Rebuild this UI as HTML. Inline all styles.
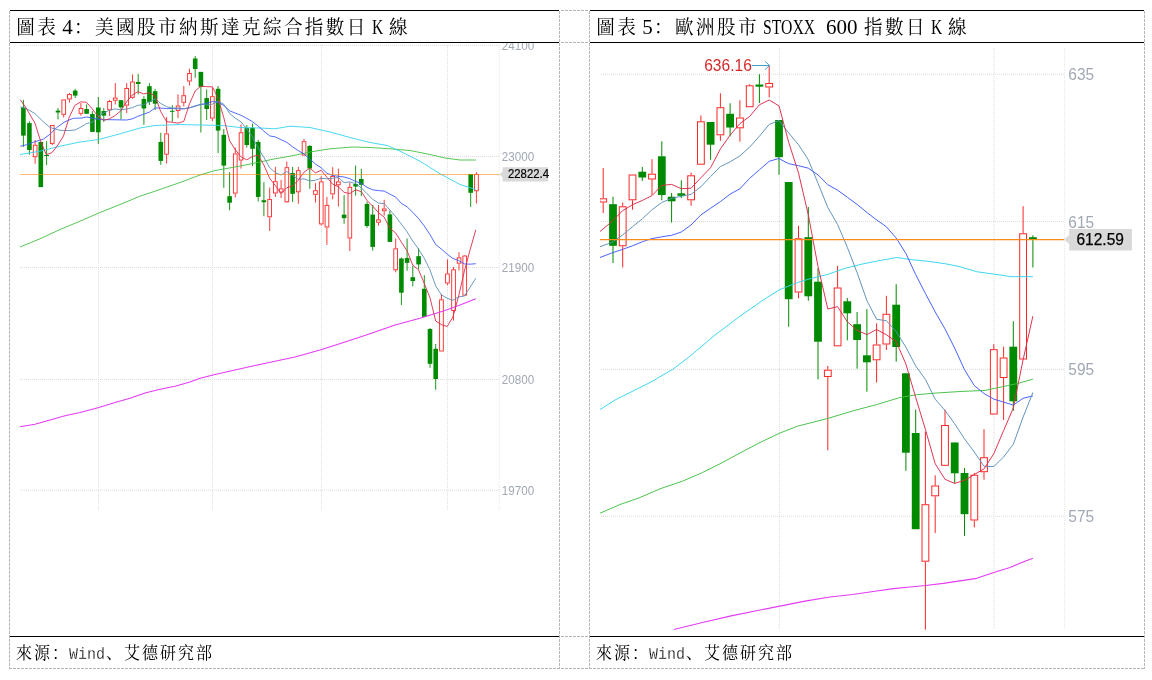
<!DOCTYPE html>
<html lang="zh">
<head>
<meta charset="utf-8">
<title>圖表 4 / 圖表 5</title>
<style>
*{box-sizing:border-box}
html,body{margin:0;padding:0;background:#fff}
body{width:1152px;height:680px;position:relative;overflow:hidden;font-family:"Liberation Serif","Noto Serif CJK SC",serif;color:#000}
#grid{position:absolute;left:0;top:0;width:1152px;height:680px;pointer-events:none}
.fig{position:absolute;top:10px;height:659px;margin:0}
#figL{left:10px;width:549px}
#figR{left:590px;width:554px}
.fig h2{position:absolute;left:0;top:1px;margin:0;height:31px;width:100%;font-weight:400;font-size:0;line-height:31px;white-space:nowrap}
.fig svg.chart{position:absolute;left:0;top:33px;display:block}
.fig p{position:absolute;left:0;top:627px;margin:0;height:31px;width:100%;font-size:0;line-height:31px;white-space:nowrap}
.t{display:inline-block;position:relative;box-sizing:border-box;height:31px;line-height:31px;vertical-align:top;white-space:pre;transform-origin:0 50%}
.cj{transform:scaleY(1.06);font-family:"Liberation Serif","Noto Serif CJK SC",serif}
.la{font-family:"Liberation Serif",serif}
.mo{font-family:"Liberation Mono",monospace;transform-origin:0 64%;-webkit-text-stroke:0.22px #fff}
</style>
</head>
<body>
<svg id="grid" width="1152" height="680" viewBox="0 0 1152 680" shape-rendering="crispEdges">
<g stroke="#b6b6b6" stroke-width="1" stroke-dasharray="3 1" fill="none">
<path d="M9.5 11V669M559.5 11V669M589.5 11V669M1144.5 11V669"/>
<path d="M9 668.5H1145M561 10.5H589M561 42.5H589M561 636.5H589"/>
</g>
<g fill="#000">
<rect x="10" y="10" width="549" height="1"/><rect x="10" y="42" width="549" height="1"/><rect x="10" y="636" width="549" height="1"/>
<rect x="590" y="10" width="554" height="1"/><rect x="590" y="42" width="554" height="1"/><rect x="590" y="636" width="554" height="1"/>
</g>
</svg>
<section class="fig" id="figL">
<h2><span class="t cj" style="margin-left:5.00px;width:42.00px;padding-left:1.20px;top:0.6px;font-size:18.6px;letter-spacing:2.40px">圖表</span> <span class="t la" style="margin-left:5.25px;width:10.50px;top:1.2px;font-size:21px">4</span><span class="t cj" style="width:294.00px;padding-left:1.20px;top:0.6px;font-size:18.6px;letter-spacing:2.40px">：美國股市納斯達克綜合指數日</span> <span class="t la" style="margin-left:5.25px;width:10.50px;top:1.2px;font-size:21px;transform:scaleX(0.745)">K</span> <span class="t cj" style="margin-left:5.25px;width:21.00px;padding-left:1.20px;top:0.6px;font-size:18.6px;letter-spacing:2.40px">線</span></h2>
<svg class="chart" width="549" height="593" viewBox="0 0 549 593">
<g stroke="#dadada" stroke-width="1" stroke-dasharray="1 1" fill="none">
<path d="M10 2.5H489"/>
<path d="M10 113.5H489"/>
<path d="M10 224.5H489"/>
<path d="M10 336.4H489"/>
<path d="M10 447.2H489"/>
</g>
<g stroke="#dfdfdf" stroke-width="1" stroke-dasharray="1 1" fill="none">
<path d="M88.5 2V467.5"/>
<path d="M202.5 2V467.5"/>
<path d="M311.5 2V467.5"/>
<path d="M437.5 2V467.5"/>
</g>
<path d="M489.3 2V467.5" stroke="#e6e6e6" stroke-width="1" stroke-dasharray="1 1"/>
<g><path d="M13.4 56.8V103.9" stroke="#008a00" stroke-width="0.9"/><rect x="11.1" y="64.5" width="4.6" height="28.1" fill="#008a00"/><path d="M19.4 78.2V111.8" stroke="#008a00" stroke-width="0.9"/><rect x="17.1" y="80.1" width="4.6" height="26.9" fill="#008a00"/><path d="M25.1 97V101.8M25.1 114.2V120.8" stroke="#ff2626" stroke-width="0.9" fill="none"/><rect x="23.3" y="102.2" width="3.7" height="11.6" stroke="#ff2626" stroke-width="0.9" fill="#fff"/><path d="M30.8 98.9V144.1" stroke="#008a00" stroke-width="0.9"/><rect x="28.5" y="98.9" width="4.6" height="45.2" fill="#008a00"/><path d="M36.6 98.2V122" stroke="#008a00" stroke-width="0.9"/><rect x="34.3" y="112" width="4.6" height="1" fill="#008a00"/><path d="M42.3 100.8V102" stroke="#ff2626" stroke-width="0.9" fill="none"/><rect x="40.4" y="82.5" width="3.7" height="17.9" stroke="#ff2626" stroke-width="0.9" fill="#fff"/><path d="M48 65V76.4" stroke="#008a00" stroke-width="0.9"/><rect x="45.7" y="67.6" width="4.6" height="1.9" fill="#008a00"/><path d="M53.7 71.8V74.5" stroke="#ff2626" stroke-width="0.9" fill="none"/><rect x="51.9" y="56.9" width="3.7" height="14.4" stroke="#ff2626" stroke-width="0.9" fill="#fff"/><path d="M59.5 50V51M59.5 56.4V59.5" stroke="#ff2626" stroke-width="0.9" fill="none"/><rect x="57.6" y="51.5" width="3.7" height="4.5" stroke="#ff2626" stroke-width="0.9" fill="#fff"/><path d="M65.2 45.8V55" stroke="#008a00" stroke-width="0.9"/><rect x="62.9" y="47.6" width="4.6" height="5" fill="#008a00"/><path d="M70.9 60V65M70.9 70.8V72.6" stroke="#ff2626" stroke-width="0.9" fill="none"/><rect x="69.1" y="65.5" width="3.7" height="4.8" stroke="#ff2626" stroke-width="0.9" fill="#fff"/><path d="M76.6 61.4V70.8" stroke="#008a00" stroke-width="0.9"/><rect x="74.3" y="66" width="4.6" height="4.8" fill="#008a00"/><path d="M82.4 68.2V88.9" stroke="#008a00" stroke-width="0.9"/><rect x="80.1" y="71" width="4.6" height="17.9" fill="#008a00"/><path d="M88.3 53.9V100.8" stroke="#008a00" stroke-width="0.9"/><rect x="86" y="64.5" width="4.6" height="24.8" fill="#008a00"/><path d="M93.8 65V78.9" stroke="#008a00" stroke-width="0.9"/><rect x="91.5" y="68" width="4.6" height="4.6" fill="#008a00"/><path d="M99.6 56.8V58M99.6 67.2V73.2" stroke="#ff2626" stroke-width="0.9" fill="none"/><rect x="97.7" y="58.5" width="3.7" height="8.3" stroke="#ff2626" stroke-width="0.9" fill="#fff"/><path d="M105.3 40.1V54.5M105.3 57.6V61.4" stroke="#ff2626" stroke-width="0.9" fill="none"/><rect x="103.4" y="55" width="3.7" height="2.2" stroke="#ff2626" stroke-width="0.9" fill="#fff"/><path d="M111 57.2V76.4" stroke="#008a00" stroke-width="0.9"/><rect x="108.7" y="57.2" width="4.6" height="7.2" fill="#008a00"/><path d="M116.7 40.1V45.1M116.7 62.6V70.1" stroke="#ff2626" stroke-width="0.9" fill="none"/><rect x="114.9" y="45.5" width="3.7" height="16.6" stroke="#ff2626" stroke-width="0.9" fill="#fff"/><path d="M122.5 31.4V38.6M122.5 54.8V55.8" stroke="#ff2626" stroke-width="0.9" fill="none"/><rect x="120.6" y="39" width="3.7" height="15.3" stroke="#ff2626" stroke-width="0.9" fill="#fff"/><path d="M128.2 30.8V51.4" stroke="#008a00" stroke-width="0.9"/><rect x="125.9" y="38.9" width="4.6" height="2.1" fill="#008a00"/><path d="M133.9 53.2V81.8" stroke="#008a00" stroke-width="0.9"/><rect x="131.6" y="56" width="4.6" height="9.5" fill="#008a00"/><path d="M139.4 40.1V62" stroke="#008a00" stroke-width="0.9"/><rect x="137.1" y="43.2" width="4.6" height="15.7" fill="#008a00"/><path d="M145.1 45.8V67" stroke="#008a00" stroke-width="0.9"/><rect x="142.8" y="48.2" width="4.6" height="12.5" fill="#008a00"/><path d="M150.8 89.8V121.8" stroke="#008a00" stroke-width="0.9"/><rect x="148.5" y="98.9" width="4.6" height="19" fill="#008a00"/><path d="M156.6 74V90.4M156.6 111.6V120.5" stroke="#ff2626" stroke-width="0.9" fill="none"/><rect x="154.7" y="90.9" width="3.7" height="20.3" stroke="#ff2626" stroke-width="0.9" fill="#fff"/><path d="M162.3 62.2V78.9" stroke="#008a00" stroke-width="0.9"/><rect x="160" y="67.8" width="4.6" height="1" fill="#008a00"/><path d="M168 51.4V62.6M168 68V75.1" stroke="#ff2626" stroke-width="0.9" fill="none"/><rect x="166.2" y="63" width="3.7" height="4.5" stroke="#ff2626" stroke-width="0.9" fill="#fff"/><path d="M173.8 43V52.2M173.8 59.8V63.5" stroke="#ff2626" stroke-width="0.9" fill="none"/><rect x="171.9" y="52.7" width="3.7" height="6.6" stroke="#ff2626" stroke-width="0.9" fill="#fff"/><path d="M179.5 25.8V30.1M179.5 38.5V42.6" stroke="#ff2626" stroke-width="0.9" fill="none"/><rect x="177.6" y="30.5" width="3.7" height="7.5" stroke="#ff2626" stroke-width="0.9" fill="#fff"/><path d="M185.2 13V34.8" stroke="#008a00" stroke-width="0.9"/><rect x="182.9" y="15.5" width="4.6" height="10.5" fill="#008a00"/><path d="M190.9 28.9V89.5" stroke="#008a00" stroke-width="0.9"/><rect x="188.6" y="28.9" width="4.6" height="15" fill="#008a00"/><path d="M196.7 46.4V77" stroke="#008a00" stroke-width="0.9"/><rect x="194.4" y="55.1" width="4.6" height="10.9" fill="#008a00"/><path d="M202.4 44.5V53.2M202.4 75.5V78" stroke="#ff2626" stroke-width="0.9" fill="none"/><rect x="200.5" y="53.7" width="3.7" height="21.4" stroke="#ff2626" stroke-width="0.9" fill="#fff"/><path d="M208.1 43V110.1" stroke="#008a00" stroke-width="0.9"/><rect x="205.8" y="45.8" width="4.6" height="41.8" fill="#008a00"/><path d="M213.8 86V144.8" stroke="#008a00" stroke-width="0.9"/><rect x="211.5" y="91.8" width="4.6" height="30.8" fill="#008a00"/><path d="M219.6 129.2V167.2" stroke="#008a00" stroke-width="0.9"/><rect x="217.3" y="153.2" width="4.6" height="6.5" fill="#008a00"/><path d="M225.3 104.5V110.4M225.3 150.5V154.5" stroke="#ff2626" stroke-width="0.9" fill="none"/><rect x="223.4" y="110.9" width="3.7" height="39.2" stroke="#ff2626" stroke-width="0.9" fill="#fff"/><path d="M231 81.4V89.2M231 117.4V125.6" stroke="#ff2626" stroke-width="0.9" fill="none"/><rect x="229.2" y="89.7" width="3.7" height="27.3" stroke="#ff2626" stroke-width="0.9" fill="#fff"/><path d="M236.8 82V104.5" stroke="#008a00" stroke-width="0.9"/><rect x="234.5" y="85.1" width="4.6" height="16.9" fill="#008a00"/><path d="M242.5 80.5V123" stroke="#008a00" stroke-width="0.9"/><rect x="240.2" y="84.8" width="4.6" height="21" fill="#008a00"/><path d="M248.2 96.8V158.5" stroke="#008a00" stroke-width="0.9"/><rect x="245.9" y="98.9" width="4.6" height="55" fill="#008a00"/><path d="M253.9 139.2V173.2" stroke="#008a00" stroke-width="0.9"/><rect x="251.6" y="157.2" width="4.6" height="2" fill="#008a00"/><path d="M259.7 144.5V156M259.7 174.2V188" stroke="#ff2626" stroke-width="0.9" fill="none"/><rect x="257.8" y="156.4" width="3.7" height="17.4" stroke="#ff2626" stroke-width="0.9" fill="#fff"/><path d="M265.4 123.9V138.2M265.4 150.5V153.9" stroke="#ff2626" stroke-width="0.9" fill="none"/><rect x="263.5" y="138.7" width="3.7" height="11.3" stroke="#ff2626" stroke-width="0.9" fill="#fff"/><path d="M271.1 136.8V145.5M271.1 149.5V155.1" stroke="#ff2626" stroke-width="0.9" fill="none"/><rect x="269.3" y="145.9" width="3.7" height="3.1" stroke="#ff2626" stroke-width="0.9" fill="#fff"/><path d="M276.8 118.5V124.2M276.8 159.2V159.8" stroke="#ff2626" stroke-width="0.9" fill="none"/><rect x="275" y="124.7" width="3.7" height="34.1" stroke="#ff2626" stroke-width="0.9" fill="#fff"/><path d="M282.6 123.9V158.9" stroke="#008a00" stroke-width="0.9"/><rect x="280.3" y="130.1" width="4.6" height="20.7" fill="#008a00"/><path d="M288.3 123.9V127.2M288.3 149.2V160.8" stroke="#ff2626" stroke-width="0.9" fill="none"/><rect x="286.4" y="127.7" width="3.7" height="21.1" stroke="#ff2626" stroke-width="0.9" fill="#fff"/><path d="M294 96V98.2" stroke="#ff2626" stroke-width="0.9" fill="none"/><rect x="292.2" y="98.7" width="3.7" height="13.4" stroke="#ff2626" stroke-width="0.9" fill="#fff"/><path d="M299.8 102V145.8" stroke="#008a00" stroke-width="0.9"/><rect x="297.4" y="103" width="4.6" height="22.5" fill="#008a00"/><path d="M305.5 140.1V147.2M305.5 151.8V159.5" stroke="#ff2626" stroke-width="0.9" fill="none"/><rect x="303.6" y="147.7" width="3.7" height="3.6" stroke="#ff2626" stroke-width="0.9" fill="#fff"/><path d="M311.2 133.2V138.5M311.2 181.4V182.6" stroke="#ff2626" stroke-width="0.9" fill="none"/><rect x="309.4" y="138.9" width="3.7" height="42" stroke="#ff2626" stroke-width="0.9" fill="#fff"/><path d="M316.9 153.9V162M316.9 184.5V201.8" stroke="#ff2626" stroke-width="0.9" fill="none"/><rect x="315.1" y="162.4" width="3.7" height="21.6" stroke="#ff2626" stroke-width="0.9" fill="#fff"/><path d="M322.7 124.2V133M322.7 151.4V156.4" stroke="#ff2626" stroke-width="0.9" fill="none"/><rect x="320.8" y="133.4" width="3.7" height="17.5" stroke="#ff2626" stroke-width="0.9" fill="#fff"/><path d="M328.4 125.8V138.5M328.4 142.2V163.5" stroke="#ff2626" stroke-width="0.9" fill="none"/><rect x="326.5" y="138.9" width="3.7" height="2.9" stroke="#ff2626" stroke-width="0.9" fill="#fff"/><path d="M334.1 152.2V180.8" stroke="#008a00" stroke-width="0.9"/><rect x="331.8" y="171.6" width="4.6" height="3.5" fill="#008a00"/><path d="M339.8 139.5V143.9M339.8 195.5V208" stroke="#ff2626" stroke-width="0.9" fill="none"/><rect x="338" y="144.3" width="3.7" height="50.7" stroke="#ff2626" stroke-width="0.9" fill="#fff"/><path d="M345.6 122.6V152.6" stroke="#008a00" stroke-width="0.9"/><rect x="343.3" y="141" width="4.6" height="2.5" fill="#008a00"/><path d="M351.3 125.8V153.2" stroke="#008a00" stroke-width="0.9"/><rect x="349" y="136" width="4.6" height="5.8" fill="#008a00"/><path d="M357 158.5V184.8" stroke="#008a00" stroke-width="0.9"/><rect x="354.7" y="161" width="4.6" height="22" fill="#008a00"/><path d="M362.7 162V207.6" stroke="#008a00" stroke-width="0.9"/><rect x="360.4" y="171.6" width="4.6" height="32.3" fill="#008a00"/><path d="M368.5 162V176.4M368.5 179.8V182.6" stroke="#ff2626" stroke-width="0.9" fill="none"/><rect x="366.6" y="176.8" width="3.7" height="2.4" stroke="#ff2626" stroke-width="0.9" fill="#fff"/><path d="M374.2 156.8V165.5M374.2 168.2V172.6" stroke="#ff2626" stroke-width="0.9" fill="none"/><rect x="372.4" y="165.9" width="3.7" height="1.9" stroke="#ff2626" stroke-width="0.9" fill="#fff"/><path d="M379.9 167.6V198.9" stroke="#008a00" stroke-width="0.9"/><rect x="377.6" y="171.4" width="4.6" height="27.5" fill="#008a00"/><path d="M385.7 195.5V205.3M385.7 227.2V229.4" stroke="#ff2626" stroke-width="0.9" fill="none"/><rect x="383.8" y="205.8" width="3.7" height="21" stroke="#ff2626" stroke-width="0.9" fill="#fff"/><path d="M391.4 214.5V262" stroke="#008a00" stroke-width="0.9"/><rect x="389.1" y="215.5" width="4.6" height="34.2" fill="#008a00"/><path d="M397.1 195.5V227.8" stroke="#008a00" stroke-width="0.9"/><rect x="394.8" y="215" width="4.6" height="4.8" fill="#008a00"/><path d="M402.8 222.6V243.5" stroke="#008a00" stroke-width="0.9"/><rect x="400.5" y="234.2" width="4.6" height="3.8" fill="#008a00"/><path d="M408.6 205.1V226.4" stroke="#008a00" stroke-width="0.9"/><rect x="406.3" y="213.2" width="4.6" height="8.2" fill="#008a00"/><path d="M414.3 232.2V273.9" stroke="#008a00" stroke-width="0.9"/><rect x="412" y="245.8" width="4.6" height="28.1" fill="#008a00"/><path d="M420 285.1V324.8" stroke="#008a00" stroke-width="0.9"/><rect x="417.7" y="286" width="4.6" height="34.8" fill="#008a00"/><path d="M425.7 301V346.8" stroke="#008a00" stroke-width="0.9"/><rect x="423.4" y="305.8" width="4.6" height="30.2" fill="#008a00"/><path d="M431.5 251V256.4" stroke="#ff2626" stroke-width="0.9" fill="none"/><rect x="429.6" y="256.8" width="3.7" height="51.2" stroke="#ff2626" stroke-width="0.9" fill="#fff"/><path d="M437.5 216.4V230.5M437.5 240.5V242.2" stroke="#ff2626" stroke-width="0.9" fill="none"/><rect x="435.6" y="230.9" width="3.7" height="9.1" stroke="#ff2626" stroke-width="0.9" fill="#fff"/><path d="M443.5 223.9V226.4M443.5 268V277.6" stroke="#ff2626" stroke-width="0.9" fill="none"/><rect x="441.7" y="226.8" width="3.7" height="40.7" stroke="#ff2626" stroke-width="0.9" fill="#fff"/><path d="M449 209.2V214.5M449 220.8V227.6" stroke="#ff2626" stroke-width="0.9" fill="none"/><rect x="447.2" y="214.9" width="3.7" height="5.3" stroke="#ff2626" stroke-width="0.9" fill="#fff"/><path d="M454.7 212V212.6M454.7 252.6V253" stroke="#ff2626" stroke-width="0.9" fill="none"/><rect x="452.9" y="213" width="3.7" height="39.1" stroke="#ff2626" stroke-width="0.9" fill="#fff"/><path d="M460.7 131V163.9" stroke="#008a00" stroke-width="0.9"/><rect x="458.4" y="131" width="4.6" height="18.8" fill="#008a00"/><path d="M466.4 129.2V131M466.4 148.2V160.5" stroke="#ff2626" stroke-width="0.9" fill="none"/><rect x="464.6" y="131.4" width="3.7" height="16.4" stroke="#ff2626" stroke-width="0.9" fill="#fff"/></g>
<g fill="none" stroke-width="0.9" stroke-linejoin="round" >
<polyline points="10,383.8 25,381.2 40,377 55,372.8 70,369.5 88.8,364.5 105,359.5 120,355.2 135,350 150,346.2 165,343.2 180,339 190,335.2 205,331.5 225,327 245,322.5 265,318.2 285,314 310,307 335,299 360,290.8 385,282 410,275.2 435,267.5 450,262 465.8,255.8" stroke="#e43cf5" stroke-width="1.12"/>
<polyline points="10,204 30,195.8 50,186.5 70,178.2 88.8,170 110,161.5 130,153.2 150,146.5 170,139.5 190,132 205,127.5 225,124 245,120 265,115.8 280,113.2 300,109 320,105.8 342.5,104 360,104.5 380,105.8 400,107.5 420,111.5 435,115 450,117 465.8,117" stroke="#43c043"/>
<polyline points="10,111.5 30,108.2 50,103.2 70,99 88.8,96.5 110,90.8 130,85 145,82.5 170,81.5 190,82 212.5,82.5 230,84.5 250,85 265,85.8 280,83.2 300,84.5 320,89 340,94.5 360,99.5 377.5,102.5 390,108.2 410,118.2 430,130.8 450,141.5 465.8,146.5" stroke="#35d3f0"/>
<polyline points="10.3,103.3 16.7,101.7 25,98.7 33.3,96.2 40,91.2 46.7,84.5 55,78.7 63.3,75.3 71.7,75 76.7,74 83.3,75.3 91.7,76.7 100,76.7 116.7,77 122.2,75.9 127.9,73.3 133.7,71.2 139.4,69.1 145.1,64.9 150.8,65.1 156.6,65.6 162.3,65.5 168,65.8 173.8,65.9 179.5,64.8 185.2,62.8 190.9,61.5 196.7,60.3 202.4,58.5 208.1,59.3 213.8,62.5 219.6,67.8 225.3,70.1 231,72.3 236.8,75.4 242.5,78.7 248.2,83.1 253.9,88.1 259.7,92.9 265.4,93.9 271.1,96.7 276.8,99.4 282.6,103.8 288.3,107.6 294,111 299.8,116 305.5,121.1 311.2,124.8 316.9,130.2 322.7,132.5 328.4,133.3 334.1,134 339.8,135.7 345.6,138.4 351.3,140.4 357,144.3 362.7,146.8 368.5,147.6 374.2,148.1 379.9,151.1 385.7,154.1 391.4,160.4 397.1,163.8 402.8,169.4 408.6,175.6 414.3,183 420,191.6 425.7,201.5 431.5,206.2 437.2,211.1 442.9,215.5 448.7,217.5 454.4,220.9 460.1,221.2 465.8,220.7" stroke="#3d5afe"/>
<polyline points="10.3,64 16.7,65.7 25,70.7 33.3,78.7 40,84.5 50,87.3 59,87.6 64.9,87 70.7,84.2 76.4,80.6 82.1,79.3 87.9,73.8 93.6,69.8 99.3,67.4 105,65.9 110.8,66.7 116.5,66.1 122.2,64.7 127.9,62.3 133.7,61.8 139.4,58.8 145.1,55.9 150.8,60.5 156.6,63.7 162.3,65.1 168,65 173.8,65.7 179.5,64.8 185.2,63.3 190.9,61.2 196.7,61.9 202.4,61.1 208.1,58.1 213.8,61.3 219.6,70.4 225.3,75.2 231,78.9 236.8,86.1 242.5,94.1 248.2,105.1 253.9,114.4 259.7,124.7 265.4,129.7 271.1,132 276.8,128.5 282.6,132.5 288.3,136.3 294,135.9 299.8,137.9 305.5,137.2 311.2,135.2 316.9,135.8 322.7,135.2 328.4,134.5 334.1,139.6 339.8,138.9 345.6,140.6 351.3,144.9 357,150.7 362.7,156.3 368.5,160.1 374.2,160.5 379.9,167 385.7,173.7 391.4,181.2 397.1,188.8 402.8,198.2 408.6,206.2 414.3,215.3 420,227 425.7,242.9 431.5,252 437.2,255.2 442.9,257.3 448.7,253.8 454.4,253.1 460.1,244.2 465.8,235.2" stroke="#5b8fb9"/>
<polyline points="10.3,56.7 15.8,64.5 25,80.3 30.8,98.7 36.3,111.7 42,109.6 47.8,102.1 53.5,93 59.2,74.4 64.9,62.3 70.7,58.9 76.4,59.2 82.1,65.7 87.9,73.3 93.6,77.3 99.3,75.9 105,72.7 110.8,67.8 116.5,58.9 122.2,52.1 127.9,48.7 133.7,50.9 139.4,49.8 145.1,53 150.8,68.8 156.6,78.7 162.3,79.3 168,80.1 173.8,78.4 179.5,60.8 185.2,47.9 190.9,43 196.7,43.7 202.4,43.8 208.1,55.3 213.8,74.7 219.6,97.8 225.3,106.7 231,113.9 236.8,116.8 242.5,113.4 248.2,112.3 253.9,122 259.7,135.4 265.4,142.6 271.1,150.6 276.8,144.7 282.6,142.9 288.3,137.2 294,129.2 299.8,125.2 305.5,129.8 311.2,127.3 316.9,134.3 322.7,141.2 328.4,143.8 334.1,149.4 339.8,150.5 345.6,146.8 351.3,148.6 357,157.4 362.7,163.2 368.5,169.7 374.2,174.1 379.9,185.5 385.7,190 391.4,199.2 397.1,207.8 402.8,222.3 408.6,226.9 414.3,240.6 420,254.8 425.7,278 431.5,281.7 437.2,283.5 442.9,274 448.7,252.8 454.4,228.1 460.1,206.8 465.8,186.8" stroke="#dc2a4a"/>
</g>
<path d="M10 131.5H489.5" stroke="#ff8000" stroke-opacity="0.56" stroke-width="1"/>
<g font-family="'Liberation Sans',sans-serif" font-size="12.3" fill="#a0a8b5">
<text x="491.8" y="7.2" textLength="32.4" lengthAdjust="spacingAndGlyphs">24100</text>
<text x="491.8" y="118.2" textLength="32.4" lengthAdjust="spacingAndGlyphs">23000</text>
<text x="491.8" y="229.2" textLength="32.4" lengthAdjust="spacingAndGlyphs">21900</text>
<text x="491.8" y="340.7" textLength="32.4" lengthAdjust="spacingAndGlyphs">20800</text>
<text x="491.8" y="451.7" textLength="32.4" lengthAdjust="spacingAndGlyphs">19700</text>
</g>
<path d="M489.8 131.4L492.6 128.2V124.3H538.2V138.6H492.6V134.6Z" fill="#d9d9d9"/>
<text x="498" y="135.3" font-family="'Liberation Sans',sans-serif" font-size="12.2" fill="#000" stroke="#000" stroke-width="0.2" textLength="41" lengthAdjust="spacingAndGlyphs">22822.4</text>
</svg>
<p><span class="t cj" style="margin-left:5.00px;width:54.00px;padding-left:1.00px;top:0.5px;font-size:16.0px;letter-spacing:2.00px">來源：</span><span class="t mo" style="width:36.00px;top:2.8px;font-size:15px;transform:scaleY(1.16)">Wind</span><span class="t cj" style="width:108.00px;padding-left:1.00px;top:0.5px;font-size:16.0px;letter-spacing:2.00px">、艾德研究部</span></p>
</section>
<section class="fig" id="figR">
<h2><span class="t cj" style="margin-left:5.00px;width:42.00px;padding-left:1.20px;top:0.6px;font-size:18.6px;letter-spacing:2.40px">圖表</span> <span class="t la" style="margin-left:5.25px;width:10.50px;top:1.2px;font-size:21px">5</span><span class="t cj" style="width:105.00px;padding-left:1.20px;top:0.6px;font-size:18.6px;letter-spacing:2.40px">：歐洲股市</span> <span class="t la" style="margin-left:5.25px;width:52.50px;top:1.2px;font-size:21px;transform:scaleX(0.750)">STOXX</span> <span class="t la" style="margin-left:10.50px;width:31.50px;top:1.2px;font-size:21px">600</span> <span class="t cj" style="margin-left:5.25px;width:63.00px;padding-left:1.20px;top:0.6px;font-size:18.6px;letter-spacing:2.40px">指數日</span> <span class="t la" style="margin-left:5.25px;width:10.50px;top:1.2px;font-size:21px;transform:scaleX(0.745)">K</span> <span class="t cj" style="margin-left:5.25px;width:21.00px;padding-left:1.20px;top:0.6px;font-size:18.6px;letter-spacing:2.40px">線</span></h2>
<svg class="chart" width="554" height="593" viewBox="0 0 554 593">
<g stroke="#dadada" stroke-width="1" stroke-dasharray="1 1" fill="none">
<path d="M11 31.2H474.5"/>
<path d="M11 178.6H474.5"/>
<path d="M11 326.4H474.5"/>
<path d="M11 473.3H474.5"/>
<path d="M189.3 5V587"/>
<path d="M404 5V587"/>
</g>
<path d="M474.6 5V587" stroke="#e6e6e6" stroke-width="1" stroke-dasharray="1 1"/>
<clipPath id="rc"><rect x="10" y="0" width="470" height="587.3"/></clipPath>
<g clip-path="url(#rc)">
<g><path d="M13.2 125V155.3M13.2 159.5V170" stroke="#ff2626" stroke-width="1.0" fill="none"/><rect x="9.8" y="155.8" width="6.8" height="3.2" stroke="#ff2626" stroke-width="1.0" fill="#fff"/><path d="M23 153.7V220" stroke="#008a00" stroke-width="1.0"/><rect x="19.1" y="161.2" width="7.8" height="41.6" fill="#008a00"/><path d="M32.7 159.5V163.3M32.7 203.3V224.5" stroke="#ff2626" stroke-width="1.0" fill="none"/><rect x="29.3" y="163.8" width="6.8" height="39" stroke="#ff2626" stroke-width="1.0" fill="#fff"/><path d="M42.5 157.3V166.7" stroke="#ff2626" stroke-width="1.0" fill="none"/><rect x="39.1" y="132" width="6.8" height="24.8" stroke="#ff2626" stroke-width="1.0" fill="#fff"/><path d="M52.3 124V137.8" stroke="#008a00" stroke-width="1.0"/><rect x="48.4" y="128.7" width="7.8" height="5.8" fill="#008a00"/><path d="M62 116.2V130.7M62 136.5V152" stroke="#ff2626" stroke-width="1.0" fill="none"/><rect x="58.6" y="131.2" width="6.8" height="4.8" stroke="#ff2626" stroke-width="1.0" fill="#fff"/><path d="M71.8 98.3V157.3" stroke="#008a00" stroke-width="1.0"/><rect x="67.9" y="113.3" width="7.8" height="38.7" fill="#008a00"/><path d="M81.6 150V179.5" stroke="#008a00" stroke-width="1.0"/><rect x="77.7" y="153.7" width="7.8" height="4.6" fill="#008a00"/><path d="M91.3 137.3V155" stroke="#008a00" stroke-width="1.0"/><rect x="87.4" y="150.3" width="7.8" height="2.5" fill="#008a00"/><path d="M101.1 129.5V132.3M101.1 157.3V162.8" stroke="#ff2626" stroke-width="1.0" fill="none"/><rect x="97.7" y="132.8" width="6.8" height="24" stroke="#ff2626" stroke-width="1.0" fill="#fff"/><path d="M110.9 72.5V78.3" stroke="#ff2626" stroke-width="1.0" fill="none"/><rect x="107.5" y="78.8" width="6.8" height="42.4" stroke="#ff2626" stroke-width="1.0" fill="#fff"/><path d="M120.6 79V116.7" stroke="#008a00" stroke-width="1.0"/><rect x="116.7" y="79" width="7.8" height="22.7" fill="#008a00"/><path d="M130.4 50.3V64.2M130.4 92.3V97.8" stroke="#ff2626" stroke-width="1.0" fill="none"/><rect x="127" y="64.7" width="6.8" height="27.1" stroke="#ff2626" stroke-width="1.0" fill="#fff"/><path d="M140.1 60.3V93.3" stroke="#008a00" stroke-width="1.0"/><rect x="136.2" y="70.8" width="7.8" height="13.7" fill="#008a00"/><path d="M149.9 57.3V74.5M149.9 85.3V98.7" stroke="#ff2626" stroke-width="1.0" fill="none"/><rect x="146.5" y="75" width="6.8" height="9.8" stroke="#ff2626" stroke-width="1.0" fill="#fff"/><path d="M159.7 41.2V42.3" stroke="#ff2626" stroke-width="1.0" fill="none"/><rect x="156.3" y="42.8" width="6.8" height="20.9" stroke="#ff2626" stroke-width="1.0" fill="#fff"/><path d="M169.4 31.2V60" stroke="#008a00" stroke-width="1.0"/><rect x="165.5" y="41.5" width="7.8" height="2.2" fill="#008a00"/><path d="M179.2 22.5V40M179.2 44.5V54.5" stroke="#ff2626" stroke-width="1.0" fill="none"/><rect x="175.8" y="40.5" width="6.8" height="3.5" stroke="#ff2626" stroke-width="1.0" fill="#fff"/><path d="M189 77V131.7" stroke="#008a00" stroke-width="1.0"/><rect x="185.1" y="77" width="7.8" height="37.2" fill="#008a00"/><path d="M198.7 139V283.7" stroke="#008a00" stroke-width="1.0"/><rect x="194.8" y="139" width="7.8" height="117.2" fill="#008a00"/><path d="M208.5 182.8V195.3M208.5 249.5V255.3" stroke="#ff2626" stroke-width="1.0" fill="none"/><rect x="205.1" y="195.8" width="6.8" height="53.2" stroke="#ff2626" stroke-width="1.0" fill="#fff"/><path d="M218.3 164V257.8" stroke="#008a00" stroke-width="1.0"/><rect x="214.4" y="194.2" width="7.8" height="59.1" fill="#008a00"/><path d="M228 225.3V336.3" stroke="#008a00" stroke-width="1.0"/><rect x="224.1" y="238.7" width="7.8" height="60" fill="#008a00"/><path d="M237.8 323V326.7M237.8 334V407.3" stroke="#ff2626" stroke-width="1.0" fill="none"/><rect x="234.4" y="327.2" width="6.8" height="6.3" stroke="#ff2626" stroke-width="1.0" fill="#fff"/><path d="M247.6 222.8V244.5" stroke="#ff2626" stroke-width="1.0" fill="none"/><rect x="244.2" y="245" width="6.8" height="57.8" stroke="#ff2626" stroke-width="1.0" fill="#fff"/><path d="M257.3 255V297.3" stroke="#008a00" stroke-width="1.0"/><rect x="253.4" y="258.3" width="7.8" height="12" fill="#008a00"/><path d="M267.1 269V325.7" stroke="#008a00" stroke-width="1.0"/><rect x="263.2" y="281.2" width="7.8" height="15.8" fill="#008a00"/><path d="M276.9 266.2V348.7" stroke="#008a00" stroke-width="1.0"/><rect x="273" y="312.3" width="7.8" height="7" fill="#008a00"/><path d="M286.6 280.3V301.5M286.6 317.3V339.5" stroke="#ff2626" stroke-width="1.0" fill="none"/><rect x="283.2" y="302" width="6.8" height="14.8" stroke="#ff2626" stroke-width="1.0" fill="#fff"/><path d="M296.4 252.8V270.8M296.4 301.5V307" stroke="#ff2626" stroke-width="1.0" fill="none"/><rect x="293" y="271.3" width="6.8" height="29.7" stroke="#ff2626" stroke-width="1.0" fill="#fff"/><path d="M306.2 241.2V318.7" stroke="#008a00" stroke-width="1.0"/><rect x="302.3" y="261.7" width="7.8" height="42.3" fill="#008a00"/><path d="M315.9 330.3V427.8" stroke="#008a00" stroke-width="1.0"/><rect x="312" y="330.3" width="7.8" height="79.4" fill="#008a00"/><path d="M325.7 366.7V486.2" stroke="#008a00" stroke-width="1.0"/><rect x="321.8" y="390" width="7.8" height="96.2" fill="#008a00"/><path d="M335.4 388.7V461.2M335.4 518.7V586.7" stroke="#ff2626" stroke-width="1.0" fill="none"/><rect x="332" y="461.7" width="6.8" height="56.5" stroke="#ff2626" stroke-width="1.0" fill="#fff"/><path d="M345.2 432.3V442.5M345.2 453.3V490" stroke="#ff2626" stroke-width="1.0" fill="none"/><rect x="341.8" y="443" width="6.8" height="9.8" stroke="#ff2626" stroke-width="1.0" fill="#fff"/><path d="M355 366.7V382" stroke="#ff2626" stroke-width="1.0" fill="none"/><rect x="351.6" y="382.5" width="6.8" height="39.8" stroke="#ff2626" stroke-width="1.0" fill="#fff"/><path d="M364.7 399.5V440.3" stroke="#008a00" stroke-width="1.0"/><rect x="360.8" y="399.5" width="7.8" height="30.8" fill="#008a00"/><path d="M374.5 425V492.8" stroke="#008a00" stroke-width="1.0"/><rect x="370.6" y="430" width="7.8" height="41.2" fill="#008a00"/><path d="M384.3 430V431.7M384.3 477.5V484.5" stroke="#ff2626" stroke-width="1.0" fill="none"/><rect x="380.9" y="432.2" width="6.8" height="44.8" stroke="#ff2626" stroke-width="1.0" fill="#fff"/><path d="M394 386.2V414.2M394 429.2V436.7" stroke="#ff2626" stroke-width="1.0" fill="none"/><rect x="390.6" y="414.7" width="6.8" height="14" stroke="#ff2626" stroke-width="1.0" fill="#fff"/><path d="M403.8 301.2V306.2" stroke="#ff2626" stroke-width="1.0" fill="none"/><rect x="400.4" y="306.7" width="6.8" height="64.3" stroke="#ff2626" stroke-width="1.0" fill="#fff"/><path d="M413.6 303.7V314.5M413.6 335V377" stroke="#ff2626" stroke-width="1.0" fill="none"/><rect x="410.2" y="315" width="6.8" height="19.5" stroke="#ff2626" stroke-width="1.0" fill="#fff"/><path d="M423.3 278.3V367.8" stroke="#008a00" stroke-width="1.0"/><rect x="419.4" y="303.7" width="7.8" height="54.6" fill="#008a00"/><path d="M433.1 163.2V190.3" stroke="#ff2626" stroke-width="1.0" fill="none"/><rect x="429.7" y="190.8" width="6.8" height="125.2" stroke="#ff2626" stroke-width="1.0" fill="#fff"/><path d="M442.9 192.3V224.5" stroke="#008a00" stroke-width="1.0"/><rect x="439" y="194.2" width="7.8" height="2" fill="#008a00"/></g>
<g fill="none" stroke-width="0.95" stroke-linejoin="round" >
<polyline points="83.8,586.5 112.5,579.5 140,573.2 170,567 190,563.2 215,558.2 240,554 262.5,551.5 286.7,548 303.3,545.7 320,544 335.5,542.5 353.3,540.3 370,537.8 386.7,535.3 403.8,529.5 420,524.5 431.7,519.5 442.9,515.3" stroke="#e43cf5" stroke-width="1.19"/>
<polyline points="10,470.2 30,461.5 50,454.5 70,445.8 92.5,438.2 112.5,429.5 130,420.8 150,410 170,399.5 190,390 207.5,383.2 237.5,375.5 262.5,368 287.5,361.3 310,354.5 326.7,351.7 346.7,350 370,348.5 395,347.4 413.5,343.5 428.3,340.3 442.9,336.2" stroke="#43c043"/>
<polyline points="10,366.5 25,357 40,349.5 60,339.5 82.5,326.5 100,313.2 125,292 150,273.2 175,255.8 190,246.5 207.5,239.5 221.7,235.3 238.3,231.2 255,225.3 271.7,221.2 288.3,217.8 306.7,214.5 321.7,216.7 338.3,218.3 355,220.7 370,223.7 386.7,228.7 404.2,231.2 421.7,233.7 442.9,233.7" stroke="#35d3f0"/>
<polyline points="10,214.5 21.7,210 32.5,206.4 42.5,202.8 52.5,198.7 61.7,195.7 71.7,193.8 81.7,192.3 91.3,189 101,182 110.8,172 120.5,165.3 130.3,158.7 140,151.2 150,145.7 159.7,135.3 169.5,126.7 179.2,118.3 188.8,115.5 198.7,120.7 208.5,122.7 218.3,125.2 228,131.9 237.8,141.7 247.6,147.2 257.3,154.2 267.1,161.4 276.9,169.5 286.6,176.9 296.4,183.8 306.2,195.1 315.9,210.5 325.7,231.6 335.4,250.5 345.2,268.9 355,285.9 364.7,305.2 374.5,326.7 384.3,342.6 394,350.5 403.8,356.1 413.6,359.1 423.3,362.1 433.1,355.3 442.9,352.9" stroke="#3d5afe"/>
<polyline points="10,203.7 21.7,199.5 32.5,192 42.5,183.7 52.5,175.7 61.7,167 71.7,159.5 81.7,155.3 91.3,153.3 101.1,151.3 110.9,143.7 120.6,133.5 130.4,123.6 140.1,118.9 149.9,112.9 159.7,104.1 169.4,93.3 179.2,81.4 189,77.6 198.7,90 208.5,101.7 218.3,116.8 228,140.3 237.8,164.5 247.6,181.5 257.3,204.3 267.1,229.6 276.9,257.6 286.6,276.3 296.4,277.7 306.2,288.6 315.9,304.2 325.7,323 335.4,336.4 345.2,356.2 355,367.4 364.7,380.8 374.5,395.9 384.3,409 394,423.3 403.8,423.5 413.6,414 423.3,401.2 433.1,374.1 442.9,349.5" stroke="#5b8fb9"/>
<polyline points="10,188.5 21.7,178.7 32.5,167.8 42.5,161.7 52.3,157.5 62,152.6 71.8,142.4 81.6,141.4 91.3,145.7 101.1,145.2 110.9,134.7 120.6,124.7 130.4,105.9 140.1,92.2 149.9,80.6 159.7,73.4 169.4,61.8 179.2,57 189,62.9 198.7,99.3 208.5,129.9 218.3,171.8 228,223.5 237.8,266 247.6,263.7 257.3,278.7 267.1,287.4 276.9,291.6 286.6,286.5 296.4,291.8 306.2,298.5 315.9,321.1 325.7,354.4 335.4,386.4 345.2,420.7 355,436.3 364.7,440.4 374.5,437.4 384.3,431.5 394,425.9 403.8,410.7 413.6,387.6 423.3,365 433.1,316.7 442.9,273.1" stroke="#dc2a4a"/>
</g>
</g>
<path d="M10 196.6H474" stroke="#ff8a1c" stroke-width="1.15"/>
<g font-family="'Liberation Sans',sans-serif" font-size="15.6" fill="#a0a8b5">
<text x="478.3" y="37.2" textLength="25.8" lengthAdjust="spacingAndGlyphs">635</text>
<text x="478.3" y="184.6" textLength="25.8" lengthAdjust="spacingAndGlyphs">615</text>
<text x="478.3" y="332.4" textLength="25.8" lengthAdjust="spacingAndGlyphs">595</text>
<text x="478.3" y="479.3" textLength="25.8" lengthAdjust="spacingAndGlyphs">575</text>
</g>
<path d="M474.2 196.5L479.2 192V186H541.9V207.5H479.2V201Z" fill="#d9d9d9"/>
<text x="486.5" y="201.8" font-family="'Liberation Sans',sans-serif" font-size="16" fill="#000" stroke="#000" stroke-width="0.25" textLength="47.4" lengthAdjust="spacingAndGlyphs">612.59</text>
<text x="114.2" y="28.3" font-family="'Liberation Sans',sans-serif" font-size="16" fill="#d42a2a" textLength="47.6" lengthAdjust="spacingAndGlyphs">636.16</text>
<path d="M161.8 22.5H179.5M175 18.3L179.5 22.5L175 26.7" stroke="#3fa3c4" stroke-width="1" fill="none"/>
</svg>
<p><span class="t cj" style="margin-left:5.00px;width:54.00px;padding-left:1.00px;top:0.5px;font-size:16.0px;letter-spacing:2.00px">來源：</span><span class="t mo" style="width:36.00px;top:2.8px;font-size:15px;transform:scaleY(1.16)">Wind</span><span class="t cj" style="width:108.00px;padding-left:1.00px;top:0.5px;font-size:16.0px;letter-spacing:2.00px">、艾德研究部</span></p>
</section>
</body>
</html>
